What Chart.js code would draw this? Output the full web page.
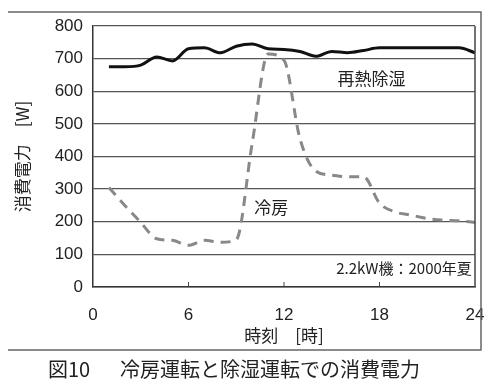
<!DOCTYPE html>
<html>
<head>
<meta charset="utf-8">
<script src="https://cdn.jsdelivr.net/npm/chart.js@4.4.0/dist/chart.umd.min.js"></script>
<style>
  html, body { margin: 0; padding: 0; background: #fff; }
  #wrap { width: 500px; height: 386px; }
</style>
</head>
<body>
<div id="wrap"><canvas id="powerChart" width="500" height="386"></canvas></div>
<script>
// hours of the day
const hours = [1,2,3,4,5,6,7,8,9,10,11,12,13,14,15,16,17,18,19,20,21,22,23,24];
// 再熱除湿 (W)
const reheatDry = [675,675,680,705,693,730,733,718,738,745,730,728,722,707,722,718,725,733,733,733,733,733,733,718];
// 冷房 (W)
const cooling = [305,250,198,148,143,128,143,137,145,440,714,695,455,355,343,338,338,257,230,220,210,205,203,198];
const xTicks = [0,6,12,18,24];

const jpFont = '"Noto Sans CJK JP", sans-serif';
const numFont = '"Liberation Sans", Arial, sans-serif';

const labelsPlugin = {
  id: 'labels',
  afterDraw(chart) {
    const ctx = chart.ctx;
    const xs = chart.scales.x, ys = chart.scales.y;
    const area = chart.chartArea;
    ctx.save();
    // plot box right side
    ctx.strokeStyle = '#444';
    ctx.lineWidth = 1.5;
    ctx.beginPath();
    ctx.moveTo(area.right, area.top);
    ctx.lineTo(area.right, area.bottom);
    ctx.stroke();
    // inner tick marks
    ctx.lineWidth = 1;
    xTicks.slice(1, -1).forEach(t => {
      const px = xs.getPixelForValue(t);
      ctx.beginPath();
      ctx.moveTo(px, area.bottom);
      ctx.lineTo(px, area.bottom - 5);
      ctx.stroke();
    });
    // outer frame
    ctx.strokeStyle = '#666';
    ctx.lineWidth = 1.5;
    ctx.beginPath();
    ctx.moveTo(8, 12);
    ctx.lineTo(481, 12);
    ctx.lineTo(481, 350);
    ctx.lineTo(8, 350);
    ctx.stroke();

    ctx.fillStyle = '#222';
    ctx.textBaseline = 'middle';
    ctx.font = '17px ' + jpFont;
    ctx.textAlign = 'center';
    ctx.fillText('再熱除湿', xs.getPixelForValue(17.5), ys.getPixelForValue(640));
    ctx.fillText('冷房', xs.getPixelForValue(11.2), ys.getPixelForValue(245));
    ctx.font = '15px ' + jpFont;
    ctx.textAlign = 'right';
    ctx.fillText('2.2kW機：2000年夏', xs.getPixelForValue(23.8), ys.getPixelForValue(57));

    // caption
    ctx.font = '20px ' + jpFont;
    ctx.textAlign = 'left';
    ctx.fillText('図10', 48, 369);
    ctx.fillText('冷房運転と除湿運転での消費電力', 120, 369);
    ctx.restore();
  }
};

new Chart(document.getElementById('powerChart'), {
  type: 'line',
  data: {
    datasets: [
      {
        label: '再熱除湿',
        data: hours.map((h, i) => ({ x: h, y: reheatDry[i] })),
        borderColor: '#111',
        borderWidth: 3,
        pointRadius: 0,
        cubicInterpolationMode: 'monotone'
      },
      {
        label: '冷房',
        data: hours.map((h, i) => ({ x: h, y: cooling[i] })),
        borderColor: '#888',
        borderWidth: 3,
        borderDash: [10, 7],
        pointRadius: 0,
        cubicInterpolationMode: 'monotone'
      }
    ]
  },
  options: {
    responsive: false,
    animation: false,
    layout: { padding: { top: 26, right: 25, left: 12, bottom: 40 } },
    plugins: { legend: { display: false }, tooltip: { enabled: false } },
    scales: {
      x: {
        type: 'linear',
        min: 0, max: 24,
        afterBuildTicks(scale) { scale.ticks = xTicks.map(v => ({ value: v })); },
        afterFit(scale) { scale.height = 59; },
        grid: { display: false },
        border: { color: '#333', width: 1.5 },
        ticks: { color: '#222', font: { family: numFont, size: 17 }, padding: 10, maxRotation: 0 },
        title: { display: true, text: '時刻　[時]', color: '#222', font: { family: jpFont, size: 17 }, padding: { top: 0, bottom: 0 } }
      },
      y: {
        min: 0, max: 800,
        afterFit(scale) { scale.width = 81; },
        grid: { color: '#555', lineWidth: 1.3, drawTicks: false },
        border: { color: '#333', width: 1.5 },
        ticks: { stepSize: 100, color: '#222', font: { family: numFont, size: 17 }, padding: 10 },
        title: { display: true, text: '消費電力　[W]', color: '#222', font: { family: jpFont, size: 17 }, padding: { top: 0, bottom: 0 } }
      }
    }
  },
  plugins: [labelsPlugin]
});
</script>
</body>
</html>
